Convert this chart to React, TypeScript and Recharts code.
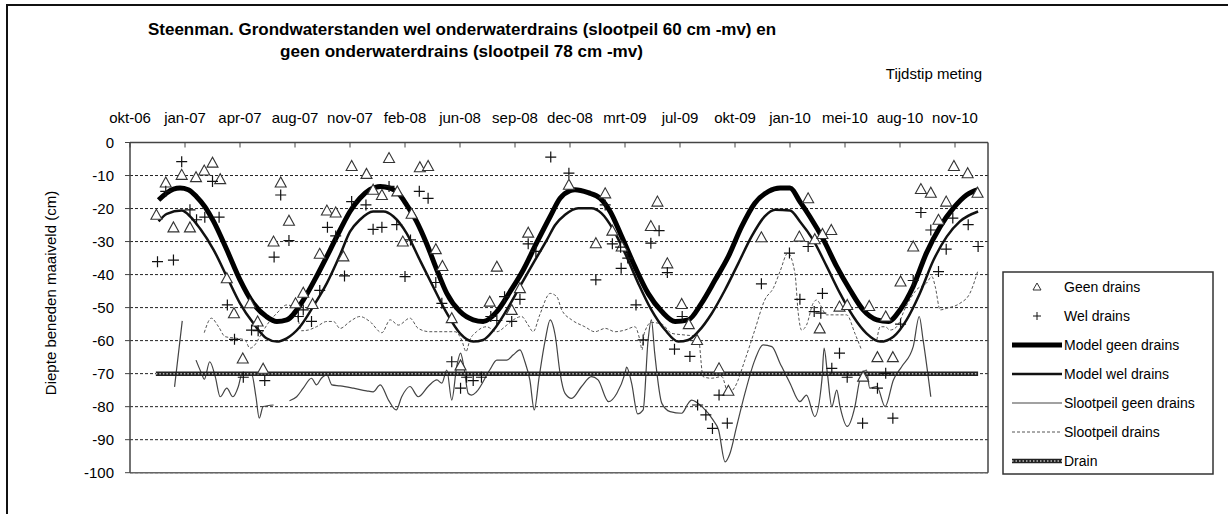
import React from 'react';
import { ComposedChart, Line, Scatter, XAxis, YAxis, CartesianGrid, ReferenceLine } from 'recharts';

const FONT = "'Liberation Sans', Arial, sans-serif";

// x axis: days since 10-okt-2006, a label every 100 days
const xLabels = ['okt-06', 'jan-07', 'apr-07', 'aug-07', 'nov-07', 'feb-08', 'jun-08', 'sep-08', 'dec-08', 'mrt-09', 'jul-09', 'okt-09', 'jan-10', 'mei-10', 'aug-10', 'nov-10'];
const xTicks = [0, 100, 200, 300, 400, 500, 600, 700, 800, 900, 1000, 1100, 1200, 1300, 1400, 1500];
const yTicks = [0, -10, -20, -30, -40, -50, -60, -70, -80, -90, -100];

// Geen drains (triangles)
const geenDays = [48, 65, 79, 94, 109, 120, 135, 150, 164, 176, 189, 205, 218, 232, 242, 261, 274, 289, 301, 315, 332, 345, 358, 374, 388, 403, 430, 442, 458, 471, 486, 496, 512, 527, 542, 556, 568, 585, 601, 654, 667, 694, 709, 724, 798, 847, 864, 877, 894, 947, 959, 977, 1003, 1016, 1031, 1071, 1088, 1148, 1217, 1233, 1245, 1254, 1259, 1275, 1290, 1304, 1333, 1344, 1359, 1374, 1387, 1401, 1424, 1438, 1456, 1470, 1484, 1498, 1523, 1541];
const geenVals = [-21.9, -12.1, -25.7, -9.8, -25.7, -10.5, -8.5, -6.1, -11.1, -41.1, -51.7, -65.4, -48.7, -54.2, -68.5, -30, -12.1, -23.7, -48.7, -45.5, -48.9, -33.7, -20.6, -21.2, -34.5, -7.1, -9.5, -14.3, -15.9, -4.7, -14.8, -30, -21.6, -7.5, -7.1, -32.3, -37.4, -53.2, -67.5, -48.2, -37.6, -50.7, -44.1, -27.3, -12.8, -30.5, -15.4, -26.7, -31.5, -25.3, -17.9, -36.6, -48.9, -55, -59.8, -68.4, -75.2, -28.7, -28.5, -16.9, -29.3, -56.3, -27.7, -26.5, -49.7, -49.2, -70.9, -49.5, -65, -52.7, -65, -42.1, -31.5, -14.1, -15.2, -23.4, -17.9, -7.1, -9.3, -15.2];

// Wel drains (plus)
const welDays = [50, 65, 79, 94, 109, 121, 136, 150, 162, 177, 190, 206, 221, 233, 245, 262, 274, 289, 306, 315, 330, 345, 359, 374, 390, 403, 429, 442, 458, 471, 485, 500, 510, 526, 542, 556, 567, 585, 601, 612, 624, 639, 656, 667, 681, 694, 709, 724, 738, 765, 798, 847, 864, 877, 892, 893, 905, 920, 933, 947, 962, 977, 990, 1004, 1018, 1032, 1047, 1059, 1071, 1086, 1148, 1199, 1218, 1233, 1244, 1256, 1259, 1276, 1290, 1304, 1332, 1359, 1374, 1387, 1401, 1424, 1438, 1456, 1470, 1484, 1496, 1524, 1542];
const welVals = [-36.1, -14.8, -35.6, -5.8, -20.4, -23.4, -22.6, -11.8, -22.6, -49.2, -59.6, -71.1, -56.8, -57, -72.1, -34.7, -15.9, -29.7, -52.7, -50.7, -54.2, -44.8, -25.7, -28.3, -40.4, -17.9, -18.9, -26.3, -25.7, -13.3, -24.9, -40.6, -29.5, -14.8, -16.9, -42.4, -48.7, -66.4, -74.4, -71.1, -72.1, -71.1, -52.7, -53.9, -46.7, -54.2, -47.5, -30.7, -33, -4.4, -9.3, -41.6, -18.9, -30.7, -31.7, -38.1, -35, -49.2, -59.8, -30.5, -26.7, -39.4, -62.6, -52.7, -64.8, -79.5, -82.5, -86.6, -76.5, -85, -42.8, -33.5, -47.5, -31.5, -51.2, -51.7, -45.7, -68.4, -63.8, -71.1, -85, -74.4, -69.9, -83.5, -55, -41.8, -21.2, -26.5, -39.1, -32.3, -22.9, -24.9, -31.5];

// Model geen drains
const modelGeenDays = [52, 79, 91, 106, 121, 136, 152, 176, 200, 224, 248, 267, 285, 315, 339, 364, 382, 400, 418, 436, 455, 473, 488, 503, 521, 539, 558, 576, 600, 624, 642, 667, 691, 715, 739, 764, 782, 800, 809, 833, 855, 873, 894, 918, 942, 967, 991, 1015, 1039, 1064, 1088, 1112, 1136, 1161, 1182, 1200, 1218, 1236, 1261, 1285, 1309, 1333, 1358, 1379, 1400, 1424, 1448, 1473, 1497, 1521, 1542];
const modelGeenVals = [-17.4, -14.1, -13.8, -14.3, -16.4, -19.4, -23.9, -32.5, -41.6, -48.7, -52.7, -54.2, -53.7, -47.7, -40.6, -32.5, -26.5, -20.9, -16.9, -14.3, -13.3, -13.8, -15.4, -18.9, -23.9, -30.5, -38.6, -45.7, -51.2, -53.7, -54.2, -51.2, -45.2, -38.6, -30.5, -22.4, -16.9, -14.6, -14.3, -15.2, -16.9, -20.9, -28.5, -37.6, -45.7, -51.2, -54.2, -53.7, -48.7, -41.6, -34.5, -25.5, -18.4, -14.8, -13.8, -13.8, -17.9, -22.4, -29.5, -37.6, -44.6, -50.7, -53.7, -54.2, -50.7, -43.6, -33.5, -25.5, -19.9, -15.9, -14.3];

// Model wel drains
const modelWelDays = [52, 67, 94, 110, 127, 152, 176, 200, 224, 248, 267, 285, 309, 333, 358, 382, 400, 418, 442, 461, 479, 503, 527, 551, 576, 600, 624, 642, 661, 685, 709, 733, 758, 773, 791, 815, 839, 857, 879, 900, 924, 948, 973, 997, 1015, 1033, 1058, 1082, 1106, 1130, 1154, 1173, 1200, 1218, 1242, 1267, 1291, 1315, 1339, 1364, 1388, 1412, 1436, 1461, 1485, 1509, 1542];
const modelWelVals = [-23.9, -21.6, -20.6, -22.5, -26, -32.5, -40.6, -48.7, -54.7, -59.3, -60.3, -59.3, -55.8, -49.7, -42.6, -34, -27, -23.4, -20.9, -20.9, -22.4, -27.5, -35.6, -43.6, -51.7, -57.8, -60.3, -59.8, -56.8, -50.7, -43.6, -36.6, -29.5, -25, -21.9, -19.9, -19.9, -21.4, -26.5, -33.5, -42.6, -50.7, -56.8, -60.3, -59.8, -57.3, -51.7, -44.6, -36.6, -28.5, -22.4, -20.4, -20.6, -23.9, -29.5, -37.6, -45.7, -52.7, -57.8, -60.3, -58.8, -53.7, -45.7, -35.6, -28.5, -23.9, -20.9];

// Slootpeil geen drains (null = gap)
const slootGeenDays = [81, 95, 105, 120, 130, 135, 145, 155, 164, 176, 187, 197, 203, 215, 221, 229, 235, 242, 261, 275, 290, 303, 315, 330, 339, 348, 358, 367, 382, 406, 430, 442, 455, 470, 484, 494, 509, 524, 542, 558, 567, 576, 585, 594, 601, 607, 615, 621, 630, 654, 667, 685, 697, 709, 718, 727, 735, 744, 755, 764, 773, 782, 791, 803, 821, 839, 851, 870, 885, 900, 903, 912, 923, 933, 942, 948, 954, 967, 982, 1003, 1015, 1021, 1040, 1060, 1070, 1082, 1091, 1103, 1118, 1136, 1151, 1167, 1182, 1200, 1218, 1230, 1245, 1258, 1262, 1268, 1276, 1285, 1291, 1304, 1318, 1327, 1339, 1345, 1358, 1373, 1388, 1403, 1424, 1435, 1442, 1456];
const slootGeenVals = [-74, -54, null, -65.9, -69.9, -71.7, -66.4, -70.9, -77, -74.4, -77, -73.9, -70.4, -69.9, -70, -77, -83.5, -80, -79.5, null, -78.2, -77, -74.4, -71.4, -73.4, -71.4, -70.4, -73.4, -73.7, -74.4, -75.2, -75.5, -73.4, -78, -81, -77, -73.9, -77, -73.9, -71.9, -72.9, -68.9, -78, -67.9, -63.8, -67.9, -76, -76.5, -75.5, -68.9, -65.9, -65.9, -64.3, -62.8, -66.4, -71.9, -81, -70.9, -59.8, -53.7, -58.3, -69.9, -76, -77.5, -73.9, -70.9, -71.9, -78.5, -76, -69.9, -68, -72.9, -82.2, -81, -59.8, -53.7, -63.8, -79, -81.5, -82, -79, -78, -80, -84, -87, -96.7, -94.1, -86, -76, -65.9, -61.3, -61.8, -66.9, -72.9, -78.5, -76.5, -83, -71.9, -62.3, -69.9, -80, -75, -80, -86, -80, -71.9, -68.9, -74.4, -73.9, -80, -71.9, -67.9, -61.8, -52.7, -59.8, -77];

// Slootpeil drains
const slootDrainsDays = [135, 148, 161, 173, 194, 209, 218, 227, 236, 250, 267, 285, 300, 312, 324, 339, 358, 370, 382, 400, 418, 436, 458, 473, 488, 509, 524, 545, 570, 591, 603, 611, 618, 630, 648, 667, 685, 697, 712, 724, 733, 745, 764, 776, 785, 803, 827, 845, 864, 882, 900, 918, 927, 931, 935, 948, 967, 985, 1009, 1033, 1042, 1057, 1076, 1088, 1100, 1118, 1136, 1154, 1170, 1182, 1196, 1209, 1215, 1221, 1230, 1242, 1248, 1267, 1285, 1303, 1318, 1330, 1345, 1358, 1364, 1373, 1382, 1394, 1410, 1430, 1448, 1458, 1464, 1473, 1485, 1509, 1527, 1542];
const slootDrainsVals = [-57.6, -53.2, -55.8, -58.8, -59.3, -59.8, -62.3, -61.3, -58.8, -55, -51.7, -49.2, -50, -57, -56.8, -55.8, -54.2, -54.2, -56.3, -54.2, -52.7, -54.2, -57.6, -53.7, -55.3, -53.2, -56.3, -57.3, -57.3, -57.3, -59.8, -63.3, -59.8, -57.3, -55.8, -57.3, -55.3, -53.7, -52.7, -55.3, -57.3, -52.2, -45.7, -46.7, -50.7, -53.7, -55.8, -57.3, -56.3, -57.3, -56.8, -55.8, -59.8, -62.8, -57.8, -54.5, -55, -57.8, -58.3, -58.8, -70.9, -71.4, -70.9, -76, -74, -65.9, -56.8, -47.7, -44, -39, -33.5, -39.6, -51.7, -56.8, -55.3, -48.7, -47.7, -52.2, -52.2, -52.2, -57.8, -62.8, null, -59.8, -55.8, -55.8, -56.8, -55.8, -50, -44.6, -42.6, -40.6, -43.6, -50.7, -50.2, -48.7, -45.7, -38.6];

// Drain depth
const drainDays = [47, 1542];
const drainVals = [-70, -70];

const legendNames = ['Geen drains', 'Wel drains', 'Model geen drains', 'Model wel drains', 'Slootpeil geen drains', 'Slootpeil drains', 'Drain'];

const toPoints = (days: number[], vals: (number | null)[]) => days.map((d, i) => ({ d, v: vals[i] }));

const Triangle = (props: any) => {
  const { cx, cy } = props;
  if (cx == null || cy == null) return null;
  return <polygon points={`${cx},${cy - 5.5} ${cx - 5.5},${cy + 4.5} ${cx + 5.5},${cy + 4.5}`} fill="#fff" stroke="#333" strokeWidth={1.1} />;
};

const Plus = (props: any) => {
  const { cx, cy } = props;
  if (cx == null || cy == null) return null;
  return <path d={`M${cx - 5.5},${cy}H${cx + 5.5}M${cx},${cy - 5.5}V${cy + 5.5}`} stroke="#111" strokeWidth={1.2} fill="none" />;
};

const LegendBox = () => {
  const x0 = 1012;
  const x1 = 1062;
  return (
    <g>
      <rect x={1003} y={272} width={210} height={202} fill="#fff" stroke="#333" strokeWidth={1.5} />
      {legendNames.map((name, i) => {
        const base = 292 + i * 29;
        const cy = base - 5;
        let sym: React.ReactNode = null;
        if (i === 0) sym = <polygon points={`1037,${cy - 4} 1033,${cy + 3} 1041,${cy + 3}`} fill="#fff" stroke="#333" strokeWidth={1} />;
        if (i === 1) sym = <path d={`M1033,${cy}H1041M1037,${cy - 4}V${cy + 4}`} stroke="#111" strokeWidth={1} />;
        if (i === 2) sym = <line x1={x0} x2={x1} y1={cy} y2={cy} stroke="#000" strokeWidth={5} />;
        if (i === 3) sym = <line x1={x0} x2={x1} y1={cy} y2={cy} stroke="#111" strokeWidth={2.5} />;
        if (i === 4) sym = <line x1={x0} x2={x1} y1={cy} y2={cy} stroke="#444" strokeWidth={1.2} />;
        if (i === 5) sym = <line x1={x0} x2={x1} y1={cy} y2={cy} stroke="#555" strokeWidth={1} strokeDasharray="3 2" />;
        if (i === 6)
          sym = (
            <g>
              <line x1={x0} x2={x1} y1={cy} y2={cy} stroke="#222" strokeWidth={4.5} />
              <line x1={x0} x2={x1} y1={cy} y2={cy} stroke="#bbb" strokeWidth={1.5} strokeDasharray="1.5 2" />
            </g>
          );
        return (
          <g key={name}>
            {sym}
            <text x={1064} y={base} fontSize={14} fontFamily={FONT} fill="#000">{name}</text>
          </g>
        );
      })}
    </g>
  );
};

export default function App() {
  return (
    <div style={{ position: 'absolute', left: 0, top: 0, width: 1228, height: 514, overflow: 'hidden', background: '#fff' }}>
      <div style={{ position: 'absolute', left: 6, top: 4, width: 1260, height: 560, borderLeft: '2px solid #111', borderTop: '2px solid #111' }} />
      <div style={{ position: 'absolute', left: 0, top: 0 }}>
        <ComposedChart width={1000} height={490} margin={{ top: 112.5, right: 12, bottom: 17.3, left: 0 }}>
          <CartesianGrid vertical={false} stroke="#222" strokeDasharray="3 2" />
          <XAxis
            type="number"
            dataKey="d"
            orientation="top"
            domain={[0, 1560]}
            ticks={xTicks}
            interval={0}
            tickFormatter={(v: number) => xLabels[Math.round(v / 100)]}
            tickSize={-5}
            tickMargin={25}
            height={30}
            axisLine={{ stroke: '#444', strokeWidth: 1.5 }}
            tickLine={{ stroke: '#444' }}
            tick={{ fill: '#000', fontSize: 15, fontFamily: FONT }}
          />
          <YAxis
            type="number"
            dataKey="v"
            domain={[-100, 0]}
            ticks={yTicks}
            interval={0}
            width={130}
            tickSize={5}
            tickMargin={11}
            axisLine={{ stroke: '#444', strokeWidth: 1.5 }}
            tickLine={{ stroke: '#444' }}
            tick={{ fill: '#000', fontSize: 15, fontFamily: FONT }}
          />
          <ReferenceLine y={-100} stroke="#666" strokeWidth={1.5} />
          <ReferenceLine x={1560} stroke="#444" strokeWidth={1.5} />
          <Line data={toPoints(slootGeenDays, slootGeenVals)} dataKey="v" type="monotone" stroke="#444" strokeWidth={1.2} dot={false} activeDot={false} isAnimationActive={false} />
          <Line data={toPoints(slootDrainsDays, slootDrainsVals)} dataKey="v" type="monotone" stroke="#555" strokeWidth={1} strokeDasharray="3 2" dot={false} activeDot={false} isAnimationActive={false} />
          <Line data={toPoints(drainDays, drainVals)} dataKey="v" type="linear" stroke="#222" strokeWidth={4.5} dot={false} activeDot={false} isAnimationActive={false} />
          <Line data={toPoints(drainDays, drainVals)} dataKey="v" type="linear" stroke="#bbb" strokeWidth={1.5} strokeDasharray="1.5 2" dot={false} activeDot={false} isAnimationActive={false} />
          <Line data={toPoints(modelGeenDays, modelGeenVals)} dataKey="v" type="monotone" stroke="#000" strokeWidth={5} dot={false} activeDot={false} isAnimationActive={false} />
          <Line data={toPoints(modelWelDays, modelWelVals)} dataKey="v" type="monotone" stroke="#111" strokeWidth={2.5} dot={false} activeDot={false} isAnimationActive={false} />
          <Scatter data={toPoints(geenDays, geenVals)} shape={<Triangle />} isAnimationActive={false} />
          <Scatter data={toPoints(welDays, welVals)} shape={<Plus />} isAnimationActive={false} />
        </ComposedChart>
      </div>
      <svg width={1228} height={514} style={{ position: 'absolute', left: 0, top: 0, pointerEvents: 'none' }}>
        <text x={148} y={35} textLength={628} lengthAdjust="spacingAndGlyphs" fontSize={16} fontWeight="bold" fontFamily={FONT} fill="#000">
          Steenman. Grondwaterstanden wel onderwaterdrains (slootpeil 60 cm -mv) en
        </text>
        <text x={280} y={57} textLength={363} lengthAdjust="spacingAndGlyphs" fontSize={16} fontWeight="bold" fontFamily={FONT} fill="#000">
          geen onderwaterdrains (slootpeil 78 cm -mv)
        </text>
        <text x={982} y={79} textAnchor="end" fontSize={15} fontFamily={FONT} fill="#000">Tijdstip meting</text>
        <text transform="translate(56,293) rotate(-90)" textAnchor="middle" fontSize={15} fontFamily={FONT} fill="#000">
          Diepte beneden maaiveld (cm)
        </text>
        <LegendBox />
      </svg>
    </div>
  );
}
